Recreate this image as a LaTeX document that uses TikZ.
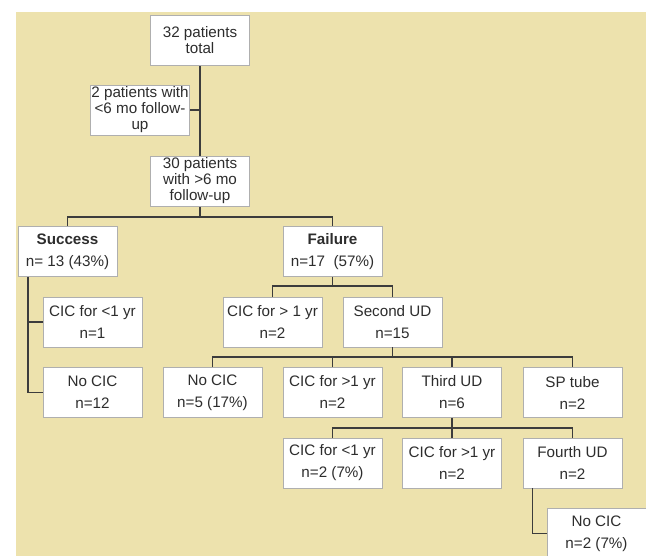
\documentclass[tikz,border=0pt]{standalone}
\usepackage{fontspec}
\setmainfont{Liberation Sans}
\usepackage{tikz}
\definecolor{paper}{RGB}{237,226,173}
\definecolor{boxline}{RGB}{175,175,175}
\definecolor{linkline}{RGB}{60,60,60}
\definecolor{ink}{RGB}{45,45,45}

\begin{document}
\begin{tikzpicture}[x=1pt, y=-1pt,
    box/.style={draw=boxline, line width=0.9pt, fill=white, minimum width=99pt,
        minimum height=50pt, inner sep=0pt, align=center, text=ink,
        font=\fontsize{15.2}{16}\selectfont},
    link/.style={draw=linkline, line width=1.5pt}]
    \useasboundingbox (0,0) rectangle (646,556);
    \fill[paper] (16,12) rectangle (646,556);

    % bus lines between the levels
    \coordinate (bus1) at (200,217);
    \coordinate (bus2) at (332.5,286);
    \coordinate (bus3) at (392.5,357);
    \coordinate (bus4) at (452,428);
    \coordinate (sstem) at (28,0);

    % links first, boxes on top
    \draw[link] (200,40) -- (200,181);
    \draw[link] (140,110) -- (200,110);
    \draw[link] (200,181) -- (bus1);
    \draw[link] (67.5,251.5) |- (bus1) -| (332.5,251.5);

    % boxes
    \node[box] (total) at (200,40) {32 patients\\total};
    \node[box] (lost) at (140,110) {2 patients with\\<6 mo follow-\\up};
    \node[box] (fu) at (200,181) {30 patients\\with >6 mo\\follow-up};

    \node[box] (success) at (67.5,251.5) {\textbf{Success}\\[6pt]n= 13 (43\%)};
    \node[box] (failure) at (332.5,251.5) {\textbf{Failure}\\[6pt]n=17\ \ (57\%)};

    \node[box] (cicless) at (92.5,322) {CIC for <1 yr\\[6pt]n=1};
    \node[box] (nocicA) at (92.5,392.5) {No CIC\\[6pt]n=12};
    \node[box] (cicmore) at (272.5,322) {CIC for > 1 yr\\[6pt]n=2};
    \node[box] (second) at (392.5,322) {Second UD\\[6pt]n=15};

    \node[box] (nocicB) at (212.5,392.5) {No CIC\\[6pt]n=5 (17\%)};
    \node[box] (cicB) at (332.5,392.5) {CIC for >1 yr\\[6pt]n=2};
    \node[box] (third) at (452,392.5) {Third UD\\[6pt]n=6};
    \node[box] (sptube) at (572.5,392.5) {SP tube\\[6pt]n=2};

    \node[box] (cicC) at (332.5,463) {CIC for <1 yr\\[6pt]n=2 (7\%)};
    \node[box] (cicD) at (452,463) {CIC for >1 yr\\[6pt]n=2};
    \node[box] (fourth) at (572.5,463) {Fourth UD\\[6pt]n=2};
    \node[box] (nocicC) at (596.5,533.5) {No CIC\\[6pt]n=2 (7\%)};

    % success branch
    \draw[link] (success.south -| sstem) |- (nocicA.west);
    \draw[link] (cicless.west) -- (cicless.west -| sstem);

    % failure branch
    \draw[link] (failure.south) -- (bus2);
    \draw[link] (cicmore.north) |- (bus2) -| (second.north);
    \draw[link] (second.south) -- (bus3);
    \draw[link] (nocicB.north) |- (bus3) -| (sptube.north);
    \draw[link] (cicB.north) -- (cicB.north |- bus3);
    \draw[link] (third.north) -- (third.north |- bus3);
    \draw[link] (third.south) -- (bus4);
    \draw[link] (cicC.north) |- (bus4) -| (fourth.north);
    \draw[link] (cicD.north) -- (bus4);
    \draw[link] ([xshift=10pt]fourth.south west) |- (nocicC.west);
\end{tikzpicture}
\end{document}
